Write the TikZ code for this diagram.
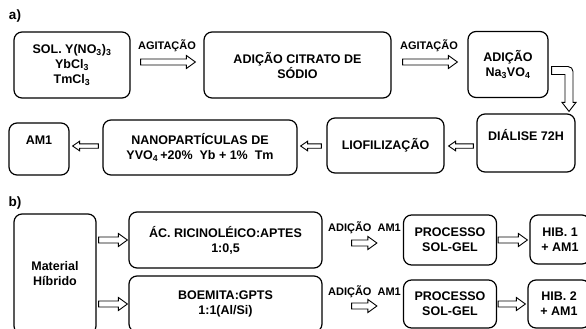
\documentclass[tikz,border=0pt]{standalone}
\usepackage{fontspec}
\setmainfont{Liberation Sans}
\usetikzlibrary{calc}
\tikzset{
  box/.style={draw, line width=1.2pt, rounded corners=8pt, align=center,
    font=\bfseries\fontsize{12.5}{15}\selectfont, inner sep=0pt},
  lbl/.style={font=\bfseries\fontsize{11}{13}\selectfont, inner sep=0pt},
  tag/.style={font=\bfseries\fontsize{13.5}{15}\selectfont, inner sep=0pt},
  blkline/.style={draw, fill=white, line width=0.9pt, line join=miter}
}
% \blk{half shaft}{half head}{head length}{from}{to}  (horizontal block arrow)
\newcommand\blk[5]{%
  \path[blkline] let \p1=(#4), \p2=(#5), \n1={sign(\x2-\x1)} in
    (\x1,\y1+#1) -- (\x2-\n1*#3,\y1+#1) -- (\x2-\n1*#3,\y1+#2) -- (\x2,\y1)
    -- (\x2-\n1*#3,\y1-#2) -- (\x2-\n1*#3,\y1-#1) -- (\x1,\y1-#1) -- cycle;}
\begin{document}
\begin{tikzpicture}[x=1pt,y=-1pt]
\clip (0,0) rectangle (586,329);
% part a
\node[tag] (ta) at (15,16) {a)};
\node[box, minimum width=116pt, minimum height=66pt] (b1) at (72,65)
  {SOL. Y(NO\textsubscript{3})\textsubscript{3}\\YbCl\textsubscript{3}\\TmCl\textsubscript{3}};
\node[box, minimum width=187pt, minimum height=66pt] (b2) at (297.5,65)
  {ADIÇÃO CITRATO DE\\SÓDIO};
\node[box, minimum width=80pt, minimum height=66pt] (b3) at (508,64.5)
  {ADIÇÃO\\Na\textsubscript{3}VO\textsubscript{4}};
\node[box, minimum width=98pt, minimum height=58pt] (b4) at (526,143)
  {DIÁLISE 72H\\[2pt]};
\node[box, minimum width=117pt, minimum height=55pt] (b5) at (385.5,145.5)
  {LIOFILIZAÇÃO};
\node[box, minimum width=194pt, minimum height=55pt] (b6) at (200,147.5)
  {NANOPARTÍCULAS DE\\YVO\textsubscript{4}\,+20\%\ \ Yb + 1\%\ \ Tm};
\node[box, minimum width=60pt, minimum height=52pt] (b7) at (39,149)
  {AM1\\[2pt]};
\coordinate (r1) at (0,62);
\coordinate (r2) at (0,146);
\node[lbl] (l1) at (167,46) {AGITAÇÃO};
\node[lbl] (l2) at (429,46) {AGITAÇÃO};
\coordinate (a1s) at ([xshift=10pt]r1 -| b1.east);
\coordinate (a1e) at ([xshift=-8pt]r1 -| b2.west);
\coordinate (a2s) at ([xshift=11pt]r1 -| b2.east);
\coordinate (a2e) at ([xshift=-10pt]r1 -| b3.west);
\blk{3}{6.5}{9}{a1s}{a1e}
\blk{3}{6.5}{9}{a2s}{a2e}
% bent arrow from b3 down to b4
\coordinate (k0) at ([xshift=3pt,yshift=-6pt]b3.east);
\coordinate (k1) at ([xshift=43pt,yshift=2pt]b4.north);
\path[blkline] let \p1=(k0), \p2=(k1) in
  (\x1,\y1+4pt) [rounded corners=5pt] -- (\x2+4pt,\y1+4pt) [sharp corners] -- (\x2+4pt,\y2+9pt)
  -- (\x2+7pt,\y2+9pt) -- (\x2,\y2) -- (\x2-7pt,\y2+9pt) -- (\x2-4pt,\y2+9pt)
  -- (\x2-4pt,\y1-4pt) -- (\x1,\y1-4pt) -- cycle;
\coordinate (a3s) at ([xshift=-3pt]r2 -| b4.west);
\coordinate (a3e) at ([xshift=4pt]r2 -| b5.east);
\coordinate (a4s) at ([xshift=-5pt]r2 -| b5.west);
\coordinate (a4e) at ([xshift=3pt]r2 -| b6.east);
\coordinate (a5s) at ([xshift=-4pt]r2 -| b6.west);
\coordinate (a5e) at ([xshift=3pt]r2 -| b7.east);
\blk{2.2}{4.8}{7}{a3s}{a3e}
\blk{2.2}{4.8}{7}{a4s}{a4e}
\blk{2.2}{4.8}{7}{a5s}{a5e}
% part b
\node[tag] (tb) at (15,203) {b)};
\node[box, minimum width=82pt, minimum height=120pt] (m) at (55,274)
  {Material\\Híbrido};
\node[box, minimum width=193pt, minimum height=56pt] (c1) at (225.5,240)
  {ÁC. RICINOLÉICO:APTES\\1:0,5};
\node[box, minimum width=193pt, minimum height=56pt] (c2) at (225.5,304)
  {BOEMITA:GPTS\\1:1(Al/Si)};
\node[box, minimum width=93pt, minimum height=50pt] (p1) at (450,240)
  {PROCESSO\\SOL-GEL};
\node[box, minimum width=93pt, minimum height=48pt] (p2) at (450,304)
  {PROCESSO\\SOL-GEL};
\node[box, minimum width=60pt, minimum height=49pt] (h1) at (560,239.5)
  {HIB. 1\\+ AM1};
\node[box, minimum width=62pt, minimum height=48pt] (h2) at (559,304)
  {HIB. 2\\+ AM1};
\node[lbl] (l3) at (364.5,228) {ADIÇÃO\ \ AM1};
\node[lbl] (l4) at (364.5,292) {ADIÇÃO\ \ AM1};
\coordinate (d1s) at ([xshift=2pt]m.east |- c1.west);
\coordinate (d1e) at ([xshift=-1pt]c1.west);
\coordinate (d2s) at ([xshift=2pt]m.east |- c2.west);
\coordinate (d2e) at ([xshift=-1pt]c2.west);
\coordinate (e1s) at ([xshift=29pt,yshift=-3pt]c1.east);
\coordinate (e1e) at ([xshift=-26pt,yshift=-3pt]c1.east -| p1.west);
\coordinate (e2s) at ([xshift=29pt,yshift=-2pt]c2.east);
\coordinate (e2e) at ([xshift=-26pt,yshift=-2pt]c2.east -| p2.west);
\coordinate (f1s) at ([xshift=1pt]p1.east);
\coordinate (f1e) at ([xshift=-2pt]p1.east -| h1.west);
\coordinate (f2s) at ([xshift=1pt]p2.east);
\coordinate (f2e) at ([xshift=-2pt]p2.east -| h2.west);
\blk{3}{6.5}{9}{d1s}{d1e}
\blk{3}{6.5}{9}{d2s}{d2e}
\blk{3}{6.5}{9}{e1s}{e1e}
\blk{3}{6.5}{9}{e2s}{e2e}
\blk{3}{6.5}{9}{f1s}{f1e}
\blk{3}{6.5}{9}{f2s}{f2e}
\end{tikzpicture}
\end{document}
